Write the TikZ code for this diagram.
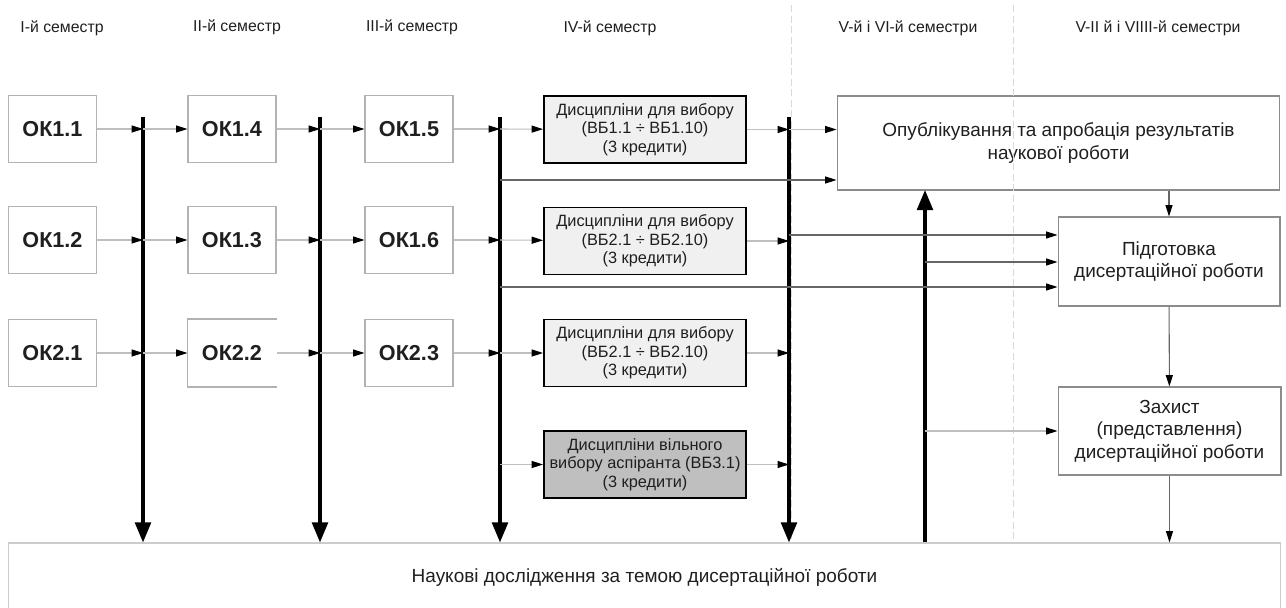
\documentclass[tikz,border=0pt]{standalone}
\usepackage{fontspec}
\setmainfont{Liberation Sans}
\usetikzlibrary{arrows.meta,positioning,calc}

\begin{document}
\begin{tikzpicture}[x=0.02cm, y=-0.02cm,
    every node/.style={text=black!88, font=\fontsize{9}{10.5}\selectfont},
    okbox/.style={draw=black!30, line width=0.6pt, minimum width=1.76cm, minimum height=1.34cm, inner sep=0pt, font=\fontsize{12.3}{14}\selectfont\bfseries},
    discbox/.style={draw=black, line width=1.1pt, fill=black!6, minimum width=4.04cm, minimum height=1.34cm, inner sep=0pt, align=center, font=\fontsize{9.3}{10.5}\selectfont},
    freebox/.style={discbox, fill=black!25},
    stagebox/.style={draw=black!45, line width=0.6pt, inner sep=0pt, align=center, font=\fontsize{10.8}{12.8}\selectfont},
    flow/.style={draw=black!25, line width=0.6pt, -{Triangle[length=6.5pt, width=4pt, color=black]}},
    link/.style={flow, draw=black!60},
    bus/.style={line width=1.9pt, -{Triangle[length=11.5pt, width=9pt]}},
    sep/.style={draw=black!15, line width=0.4pt, dash pattern=on 4pt off 2pt}]
    \useasboundingbox (0,0) rectangle (1286,608);

    % Semesters
    \node (s1) at (62,28) {I-й семестр};
    \node (s2) at (237,27) {II-й семестр};
    \node (s3) at (412,27) {III-й семестр};
    \node (s4) at (610,28) {IV-й семестр};
    \node (s5) at (908,28) {V-й і VI-й семестри};
    \node (s6) at (1158,28) {V-II й і VIIII-й семестри};
    \coordinate (sep1) at (791,5);
    \coordinate (sep2) at (1013,5);

    % Compulsory courses
    \node[okbox] (ok11) at (52.5,129) {ОК1.1};
    \node[okbox] (ok12) at (52.5,240) {ОК1.2};
    \node[okbox] (ok21) at (52.5,353) {ОК2.1};
    \node[okbox] (ok14) at (232,129) {ОК1.4};
    \node[okbox] (ok13) at (232,240) {ОК1.3};
    \node[okbox, draw=none] (ok22) at (232,353) {ОК2.2};
    \node[okbox] (ok15) at (409,129) {ОК1.5};
    \node[okbox] (ok16) at (409,240) {ОК1.6};
    \node[okbox] (ok23) at (409,353) {ОК2.3};

    % Elective courses
    \node[discbox] (disc1) at (645,129.5) {Дисципліни для вибору\\(ВБ1.1 ÷ ВБ1.10)\\(3 кредити)};
    \node[discbox] (disc2) at (645,241) {Дисципліни для вибору\\(ВБ2.1 ÷ ВБ2.10)\\(3 кредити)};
    \node[discbox] (disc3) at (645,353) {Дисципліни для вибору\\(ВБ2.1 ÷ ВБ2.10)\\(3 кредити)};
    \node[freebox] (disc4) at (645,464.5) {Дисципліни вільного\\вибору аспіранта (ВБ3.1)\\(3 кредити)};

    % Later stages
    \node[stagebox, minimum width=8.86cm, minimum height=1.88cm] (pub) at (1058.5,143) {Опублікування та апробація результатів\\наукової роботи};
    \node[stagebox, minimum width=4.44cm, minimum height=1.78cm] (prep) at (1169,261.5) {Підготовка\\дисертаційної роботи};
    \node[stagebox, minimum width=4.46cm, minimum height=1.76cm] (def) at (1169.5,431) {Захист\\(представлення)\\дисертаційної роботи};
    \node[stagebox, draw=black!20, minimum width=25.46cm, minimum height=1.36cm] (res) at (644.5,577) {Наукові дослідження за темою дисертаційної роботи};

    % Dividers
    \draw[sep] (sep1) -- (sep1 |- res.north);
    \draw[sep] (sep2) -- (sep2 |- res.north);

    % ОК2.2 has no right edge
    \draw[draw=black!30, line width=0.6pt] (ok22.north east) -- (ok22.north west) -- (ok22.south west) -- (ok22.south east);

    % Buses
    \coordinate (bus1) at (143,117);
    \coordinate (bus2) at (320,117);
    \coordinate (bus3) at (500,117);
    \coordinate (bus4) at (789,117);
    \coordinate (up) at (925,190);
    \draw[bus] (bus1) -- (bus1 |- res.north);
    \draw[bus] (bus2) -- (bus2 |- res.north);
    \draw[bus] (bus3) -- (bus3 |- res.north);
    \draw[bus] (bus4) -- (bus4 |- res.north);
    \draw[bus] (up |- res.north) -- (up);

    % Row flows
    \foreach \a/\b/\c in {ok11/bus1/ok14, ok12/bus1/ok13, ok21/bus1/ok22,
                          ok14/bus2/ok15, ok13/bus2/ok16, ok22/bus2/ok23,
                          ok15/bus3/disc1, ok16/bus3/disc2, ok23/bus3/disc3} {
        \draw[flow] (\a) -- (\a -| \b);
        \draw[flow] (\a -| \b) -- (\c);
    }
    \draw[flow] (disc4 -| bus3) -- (disc4);
    \foreach \a in {disc1, disc2, disc3, disc4}
        \draw[flow] (\a) -- (\a -| bus4);
    \draw[flow] (disc1 -| bus4) -- (disc1 -| pub.west);

    % Links to the later stages
    \coordinate (tap1) at (500,180);
    \coordinate (tap2) at (789,235);
    \coordinate (tap3) at (925,262);
    \coordinate (tap4) at (500,287);
    \draw[link] (tap1) -- (tap1 -| pub.west);
    \draw[link] (tap2) -- (tap2 -| prep.west);
    \draw[link] (tap3) -- (tap3 -| prep.west);
    \draw[link] (tap4) -- (tap4 -| prep.west);
    \draw[flow] (up |- def) -- (def);
    \draw[link] (prep |- pub.south) -- (prep);
    \draw[link] (prep) -- (def);
    \draw[link] (def) -- (def |- res.north);
\end{tikzpicture}
\end{document}
